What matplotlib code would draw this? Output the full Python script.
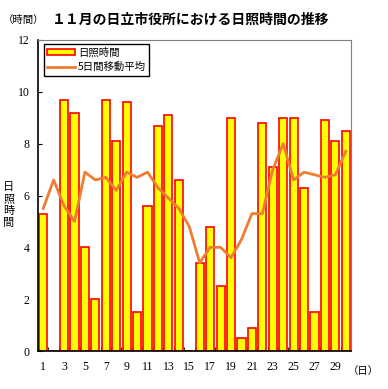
import numpy as np
import matplotlib.pyplot as plt

days = list(range(1, 31))
sunshine = [5.3, 0.0, 9.7, 9.2, 4.0, 2.0, 9.7, 8.1, 9.6, 1.5,
            5.6, 8.7, 9.1, 6.6, 0.0, 3.4, 4.8, 2.5, 9.0, 0.5,
            0.9, 8.8, 7.1, 9.0, 9.0, 6.3, 1.5, 8.9, 8.1, 8.5]
moving_avg = [5.5, 6.6, 5.6, 5.0, 6.9, 6.6, 6.7, 6.2, 6.9, 6.7,
              6.9, 6.3, 5.9, 5.5, 4.8, 3.4, 4.0, 4.0, 3.6, 4.3,
              5.3, 5.3, 7.0, 8.0, 6.6, 6.9, 6.8, 6.7, 6.8, 7.7]
xtick_labels = [str(d) for d in days if d % 2 == 1]

jp = ['Noto Sans CJK JP', 'DejaVu Sans']
plt.rcParams['font.family'] = jp

W, H = 388, 389
fig = plt.figure(figsize=(W / 100, H / 100), dpi=100)
ax = fig.add_axes([38 / W, (H - 351) / H, (351 - 38) / W, (351 - 40) / H])

x = np.arange(len(days))
bars = ax.bar(x, sunshine, width=0.78, color='#FFFF00', edgecolor='#FF0000',
              linewidth=1.2, label='日照時間', zorder=2)
line, = ax.plot(x, moving_avg, color='#ED7D31', linewidth=2, label='5日間移動平均', zorder=3)

ax.set_xlim(-0.5, len(days) - 0.5)
ax.set_ylim(0, 12)
ax.set_yticks(range(0, 13, 2))
ax.set_yticklabels([str(v) for v in range(0, 13, 2)], family='Liberation Serif', fontsize=8.5)
ax.tick_params(axis='y', direction='in', length=3, pad=6, color='black')

ax.set_xticks(x[::2])
ax.set_xticklabels(xtick_labels, family='Liberation Serif', fontsize=8.5)
ax.tick_params(axis='x', length=0, pad=7)
ax.set_xticks(np.arange(-0.5, len(days), 1), minor=True)
ax.tick_params(axis='x', which='minor', direction='in', length=3, color='black')

ax.spines['left'].set_color('black')
ax.spines['bottom'].set_color('black')
ax.spines['left'].set_linewidth(1.2)
ax.spines['bottom'].set_linewidth(1.2)
ax.spines['top'].set_color('#808080')
ax.spines['right'].set_color('#808080')

leg = ax.legend([bars, line], ['日照時間', '5日間移動平均'],
                loc='upper left', bbox_to_anchor=(0.012, 0.995), fontsize=7.5,
                frameon=True, fancybox=False, edgecolor='black', framealpha=1,
                handlelength=2.6, handleheight=0.6, borderpad=0.35,
                labelspacing=0.45, handletextpad=0.3, borderaxespad=0.2)
leg.get_frame().set_linewidth(1.0)

fig.text(52 / W, 1 - 20 / H, '１１月の日立市役所における日照時間の推移',
         fontsize=10, fontweight='bold', va='center', ha='left')
fig.text(3 / W, 1 - 20 / H, '（時間）', fontsize=7.5, va='center', ha='left')
for i, ch in enumerate('日照時間'):
    fig.text(9 / W, 1 - (187 + i * 12) / H, ch, fontsize=8, va='center', ha='center')
fig.text(363 / W, 1 - 371 / H, '（日）', fontsize=7.5, va='center', ha='center')

fig.savefig('out.png', dpi=100)
